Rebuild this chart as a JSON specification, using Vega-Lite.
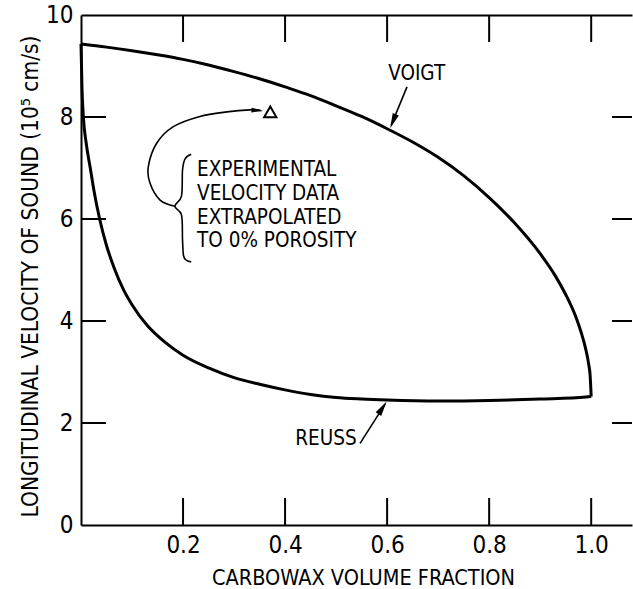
{
  "$schema": "https://vega.github.io/schema/vega-lite/v6.json",
  "width": 551,
  "height": 510,
  "autosize": "none",
  "padding": {"left": 81, "top": 15, "right": 1, "bottom": 64},
  "background": "white",
  "config": {
    "view": {"stroke": null},
    "font": "Liberation Sans Narrow, DejaVu Sans Condensed, Liberation Sans, sans-serif",
    "axis": {
      "grid": false,
      "domainColor": "black",
      "domainWidth": 2,
      "ticks": false,
      "labelColor": "black",
      "titleColor": "black",
      "labelFontSize": 24,
      "titleFontSize": 21.5,
      "titleFontWeight": "normal",
      "labelFont": "Liberation Sans Narrow, DejaVu Sans Condensed, Liberation Sans, sans-serif",
      "titleFont": "Liberation Sans Narrow, DejaVu Sans Condensed, Liberation Sans, sans-serif"
    }
  },
  "datasets": {
    "curves": [
      {"series": "Voigt", "i": 0, "x": 0.0, "y": 9.43},
      {"series": "Voigt", "i": 1, "x": 0.05, "y": 9.37},
      {"series": "Voigt", "i": 2, "x": 0.1, "y": 9.3},
      {"series": "Voigt", "i": 3, "x": 0.15, "y": 9.22},
      {"series": "Voigt", "i": 4, "x": 0.2, "y": 9.13},
      {"series": "Voigt", "i": 5, "x": 0.25, "y": 9.02},
      {"series": "Voigt", "i": 6, "x": 0.3, "y": 8.89},
      {"series": "Voigt", "i": 7, "x": 0.35, "y": 8.75},
      {"series": "Voigt", "i": 8, "x": 0.4, "y": 8.59},
      {"series": "Voigt", "i": 9, "x": 0.45, "y": 8.42},
      {"series": "Voigt", "i": 10, "x": 0.5, "y": 8.22},
      {"series": "Voigt", "i": 11, "x": 0.55, "y": 8.01},
      {"series": "Voigt", "i": 12, "x": 0.6, "y": 7.77},
      {"series": "Voigt", "i": 13, "x": 0.65, "y": 7.51},
      {"series": "Voigt", "i": 14, "x": 0.7, "y": 7.21},
      {"series": "Voigt", "i": 15, "x": 0.75, "y": 6.85},
      {"series": "Voigt", "i": 16, "x": 0.8, "y": 6.42},
      {"series": "Voigt", "i": 17, "x": 0.85, "y": 5.92},
      {"series": "Voigt", "i": 18, "x": 0.9, "y": 5.32},
      {"series": "Voigt", "i": 19, "x": 0.93, "y": 4.88},
      {"series": "Voigt", "i": 20, "x": 0.95, "y": 4.52},
      {"series": "Voigt", "i": 21, "x": 0.97, "y": 4.08},
      {"series": "Voigt", "i": 22, "x": 0.98, "y": 3.79},
      {"series": "Voigt", "i": 23, "x": 0.99, "y": 3.42},
      {"series": "Voigt", "i": 24, "x": 0.995, "y": 3.16},
      {"series": "Voigt", "i": 25, "x": 0.998, "y": 2.92},
      {"series": "Voigt", "i": 26, "x": 1.0, "y": 2.52},
      {"series": "Reuss", "i": 0, "x": 0.0, "y": 9.43},
      {"series": "Reuss", "i": 1, "x": 0.002, "y": 8.55},
      {"series": "Reuss", "i": 2, "x": 0.005, "y": 7.95},
      {"series": "Reuss", "i": 3, "x": 0.01, "y": 7.5},
      {"series": "Reuss", "i": 4, "x": 0.018, "y": 7.01},
      {"series": "Reuss", "i": 5, "x": 0.025, "y": 6.58},
      {"series": "Reuss", "i": 6, "x": 0.037, "y": 5.98},
      {"series": "Reuss", "i": 7, "x": 0.05, "y": 5.48},
      {"series": "Reuss", "i": 8, "x": 0.065, "y": 5.04},
      {"series": "Reuss", "i": 9, "x": 0.083, "y": 4.62},
      {"series": "Reuss", "i": 10, "x": 0.1, "y": 4.32},
      {"series": "Reuss", "i": 11, "x": 0.13, "y": 3.91},
      {"series": "Reuss", "i": 12, "x": 0.165, "y": 3.58},
      {"series": "Reuss", "i": 13, "x": 0.2, "y": 3.33},
      {"series": "Reuss", "i": 14, "x": 0.25, "y": 3.08},
      {"series": "Reuss", "i": 15, "x": 0.3, "y": 2.89},
      {"series": "Reuss", "i": 16, "x": 0.35, "y": 2.76},
      {"series": "Reuss", "i": 17, "x": 0.4, "y": 2.65},
      {"series": "Reuss", "i": 18, "x": 0.45, "y": 2.56},
      {"series": "Reuss", "i": 19, "x": 0.5, "y": 2.5},
      {"series": "Reuss", "i": 20, "x": 0.55, "y": 2.47},
      {"series": "Reuss", "i": 21, "x": 0.6, "y": 2.45},
      {"series": "Reuss", "i": 22, "x": 0.7, "y": 2.43},
      {"series": "Reuss", "i": 23, "x": 0.8, "y": 2.44},
      {"series": "Reuss", "i": 24, "x": 0.9, "y": 2.47},
      {"series": "Reuss", "i": 25, "x": 0.99, "y": 2.51},
      {"series": "Reuss", "i": 26, "x": 1.0, "y": 2.52}
    ],
    "experiment": [
      {"label": "Experimental velocity data extrapolated to 0% porosity", "x": 0.371, "y": 8.1}
    ],
    "xticks": [{"v": 0.2}, {"v": 0.4}, {"v": 0.6}, {"v": 0.8}, {"v": 1.0}],
    "yticks": [{"v": 2}, {"v": 4}, {"v": 6}, {"v": 8}],
    "guides": [
      {"part": "loop", "i": 0, "x": 0.184, "y": 6.25},
      {"part": "loop", "i": 1, "x": 0.155, "y": 6.37},
      {"part": "loop", "i": 2, "x": 0.135, "y": 6.71},
      {"part": "loop", "i": 3, "x": 0.132, "y": 7.03},
      {"part": "loop", "i": 4, "x": 0.148, "y": 7.48},
      {"part": "loop", "i": 5, "x": 0.181, "y": 7.81},
      {"part": "loop", "i": 6, "x": 0.233, "y": 8.01},
      {"part": "loop", "i": 7, "x": 0.286, "y": 8.1},
      {"part": "loop", "i": 8, "x": 0.331, "y": 8.14},
      {"part": "loop", "i": 9, "x": 0.352, "y": 8.13},
      {"part": "brace", "i": 0, "x": 0.216, "y": 7.27},
      {"part": "brace", "i": 1, "x": 0.204, "y": 7.18},
      {"part": "brace", "i": 2, "x": 0.199, "y": 6.96},
      {"part": "brace", "i": 3, "x": 0.197, "y": 6.45},
      {"part": "brace", "i": 4, "x": 0.184, "y": 6.25},
      {"part": "brace", "i": 5, "x": 0.197, "y": 6.08},
      {"part": "brace", "i": 6, "x": 0.199, "y": 5.59},
      {"part": "brace", "i": 7, "x": 0.201, "y": 5.28},
      {"part": "brace", "i": 8, "x": 0.207, "y": 5.19},
      {"part": "brace", "i": 9, "x": 0.216, "y": 5.16},
      {"part": "voigt", "i": 0, "x": 0.639, "y": 8.59},
      {"part": "voigt", "i": 1, "x": 0.608, "y": 7.84},
      {"part": "reuss", "i": 0, "x": 0.547, "y": 1.6},
      {"part": "reuss", "i": 1, "x": 0.596, "y": 2.37}
    ],
    "heads": [
      {"part": "loop", "x": 0.3575, "y": 8.12},
      {"part": "voigt", "x": 0.606, "y": 7.78},
      {"part": "reuss", "x": 0.599, "y": 2.42}
    ],
    "notes": [
      {"text": "EXPERIMENTAL", "x": 0.2275, "y": 6.97},
      {"text": "VELOCITY DATA", "x": 0.2275, "y": 6.49},
      {"text": "EXTRAPOLATED", "x": 0.2275, "y": 6.02},
      {"text": "TO 0% POROSITY", "x": 0.2275, "y": 5.56},
      {"text": "VOIGT", "x": 0.602, "y": 8.85},
      {"text": "REUSS", "x": 0.42, "y": 1.69}
    ]
  },
  "layer": [
    {
      "data": {"name": "curves"},
      "mark": {"type": "line", "color": "black", "strokeWidth": 3, "interpolate": "monotone"},
      "encoding": {
        "x": {
          "field": "x", "type": "quantitative",
          "scale": {"domain": [0, 1.08], "nice": false, "zero": false},
          "axis": {
            "orient": "bottom",
            "values": [0.2, 0.4, 0.6, 0.8, 1.0],
            "format": ".1f",
            "labelPadding": 8,
            "title": "CARBOWAX VOLUME FRACTION",
            "titlePadding": 10,
            "titleX": 282
          }
        },
        "y": {
          "field": "y", "type": "quantitative",
          "scale": {"domain": [0, 10], "nice": false, "zero": false},
          "axis": {
            "orient": "left",
            "values": [0, 2, 4, 6, 8, 10],
            "format": "d",
            "labelPadding": 8,
            "title": "LONGITUDINAL VELOCITY OF SOUND (10⁵ cm/s)",
            "titleFontSize": 22.5,
            "titlePadding": 3,
            "titleY": 261
          }
        },
        "detail": {"field": "series"},
        "order": {"field": "i", "type": "quantitative"}
      }
    },
    {
      "data": {"name": "experiment"},
      "mark": {"type": "point", "shape": "triangle-up", "filled": false, "color": "black", "strokeWidth": 2, "size": 150, "opacity": 1},
      "encoding": {
        "x": {
          "field": "x", "type": "quantitative",
          "axis": {"orient": "bottom", "offset": -510, "values": [0.2, 0.4, 0.6, 0.8, 1.0], "labels": false, "domain": true, "title": null}
        },
        "y": {"field": "y", "type": "quantitative", "axis": null}
      }
    },
    {
      "data": {"name": "xticks"},
      "mark": {"type": "rule", "color": "black", "strokeWidth": 2, "y2Offset": -27},
      "encoding": {
        "x": {"field": "v", "type": "quantitative", "axis": null},
        "y": {"datum": 0, "type": "quantitative", "axis": null},
        "y2": {"datum": 0}
      }
    },
    {
      "data": {"name": "xticks"},
      "mark": {"type": "rule", "color": "black", "strokeWidth": 2, "y2Offset": 27},
      "encoding": {
        "x": {"field": "v", "type": "quantitative", "axis": null},
        "y": {"datum": 10, "type": "quantitative", "axis": null},
        "y2": {"datum": 10}
      }
    },
    {
      "data": {"name": "yticks"},
      "mark": {"type": "rule", "color": "black", "strokeWidth": 2, "x2Offset": 25},
      "encoding": {
        "y": {"field": "v", "type": "quantitative", "axis": null},
        "x": {"datum": 0, "type": "quantitative", "axis": null},
        "x2": {"datum": 0}
      }
    },
    {
      "data": {"name": "yticks"},
      "mark": {"type": "rule", "color": "black", "strokeWidth": 2, "x2Offset": -20},
      "encoding": {
        "y": {"field": "v", "type": "quantitative", "axis": null},
        "x": {"datum": 1.08, "type": "quantitative", "axis": null},
        "x2": {"datum": 1.08}
      }
    },
    {
      "data": {"name": "notes"},
      "mark": {"type": "text", "align": "left", "baseline": "middle", "fontSize": 20.5, "color": "black"},
      "encoding": {
        "x": {"field": "x", "type": "quantitative", "axis": null},
        "y": {"field": "y", "type": "quantitative", "axis": null},
        "text": {"field": "text"}
      }
    },
    {
      "data": {"name": "guides"},
      "mark": {"type": "line", "color": "black", "strokeWidth": 1.6, "interpolate": "cardinal"},
      "encoding": {
        "x": {"field": "x", "type": "quantitative", "axis": null},
        "y": {"field": "y", "type": "quantitative", "axis": null},
        "detail": {"field": "part"},
        "order": {"field": "i", "type": "quantitative"}
      }
    },
    {
      "data": {"name": "heads"},
      "transform": [{"filter": "datum.part === 'loop'"}],
      "mark": {"type": "point", "shape": "M0,0L0.2,1L-0.2,1Z", "filled": true, "color": "black", "opacity": 1, "size": 576, "angle": 94},
      "encoding": {
        "x": {"field": "x", "type": "quantitative", "axis": null},
        "y": {"field": "y", "type": "quantitative", "axis": null}
      }
    },
    {
      "data": {"name": "heads"},
      "transform": [{"filter": "datum.part === 'voigt'"}],
      "mark": {"type": "point", "shape": "M0,0L0.22,1L-0.22,1Z", "filled": true, "color": "black", "opacity": 1, "size": 900, "angle": 202},
      "encoding": {
        "x": {"field": "x", "type": "quantitative", "axis": null},
        "y": {"field": "y", "type": "quantitative", "axis": null}
      }
    },
    {
      "data": {"name": "heads"},
      "transform": [{"filter": "datum.part === 'reuss'"}],
      "mark": {"type": "point", "shape": "M0,0L0.22,1L-0.22,1Z", "filled": true, "color": "black", "opacity": 1, "size": 900, "angle": 33},
      "encoding": {
        "x": {"field": "x", "type": "quantitative", "axis": null},
        "y": {"field": "y", "type": "quantitative", "axis": null}
      }
    }
  ],
  "resolve": {"axis": {"x": "independent", "y": "independent"}}
}
